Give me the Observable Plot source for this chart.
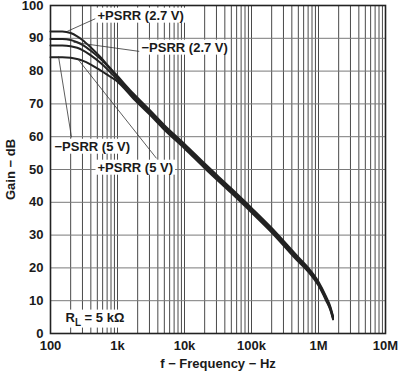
<!DOCTYPE html>
<html><head><meta charset="utf-8">
<script src="https://cdn.jsdelivr.net/npm/d3@7"></script>
<script src="https://cdn.jsdelivr.net/npm/@observablehq/plot@0.6"></script>
<style>
body{margin:0;background:#fff;}
#chart svg{display:block;}
</style>
</head><body><div id="chart"></div>
<script>
// Frequencies (Hz) at which the curves are read
const freqs = [100, 150, 200, 250, 300, 400, 550, 750, 1000, 1750, 3000, 5000, 10000, 20000, 50000, 100000, 200000, 500000, 700000, 1000000, 1300000, 1500000, 1650000];
// Gain (dB) per series
const posPsrr27 = [92.1, 92.1, 91.6, 90.6, 89.5, 87.2, 84.4, 81.3, 78.5, 73.0, 68.2, 63.5, 57.8, 51.8, 44.2, 38.3, 32.2, 23.3, 20.1, 15.8, 11.2, 8.2, 5.2];
const negPsrr27 = [89.8, 89.8, 89.5, 88.8, 88.0, 86.2, 83.8, 81.0, 78.0, 72.6, 67.8, 63.1, 57.4, 51.4, 43.8, 37.9, 31.8, 22.9, 19.7, 15.4, 10.8, 7.8, 4.9];
const posPsrr5 = [87.8, 87.8, 87.6, 87.1, 86.4, 84.8, 82.6, 80.0, 77.4, 72.0, 67.2, 62.6, 56.9, 50.9, 43.3, 37.4, 31.3, 22.4, 19.3, 15.0, 10.4, 7.5, 4.6];
const negPsrr5 = [84.2, 84.2, 84.1, 83.7, 83.2, 82.0, 80.3, 78.5, 76.8, 71.5, 66.8, 62.1, 56.4, 50.4, 42.8, 36.9, 30.8, 21.9, 18.9, 14.6, 10.0, 7.2, 4.3];
const seriesNames = ["+PSRR (2.7 V)", "−PSRR (2.7 V)", "+PSRR (5 V)", "−PSRR (5 V)"];
const seriesValues = [posPsrr27, negPsrr27, posPsrr5, negPsrr5];

// Axes
const xTickValues = [100, 1e3, 1e4, 1e5, 1e6, 1e7];
const xTickLabels = ["100", "1k", "10k", "100k", "1M", "10M"];
const yTickValues = [0, 10, 20, 30, 40, 50, 60, 70, 80, 90, 100];
const xLabel = "f − Frequency − Hz";
const yLabel = "Gain − dB";

// Annotations (data coordinates: frequency, gain)
const labelTexts = ["+PSRR (2.7 V)", "−PSRR (2.7 V)", "−PSRR (5 V)", "+PSRR (5 V)", "RL = 5 kΩ"];
const labelF = [503, 2281, 114.7, 503, 167.5];
const labelG = [96.95, 87.2, 57.0, 50.6, 4.9];
const leaderF1 = [177, 220, 131.6, 253];
const leaderG1 = [92.1, 88.8, 84.5, 83.8];
const leaderF2 = [470, 2128, 205.8, 3820];
const leaderG2 = [96.0, 86.0, 59.8, 53.4];

const rows = seriesNames.flatMap((name, i) => freqs.map((f, j) => ({name, f, g: seriesValues[i][j]})));
const labels = labelTexts.map((t, i) => ({t, f: labelF[i], g: labelG[i]}));
const leaders = leaderF1.map((f, i) => ({f1: f, g1: leaderG1[i], f2: leaderF2[i], g2: leaderG2[i]}));
const gridX = [];
for (let d = 100; d < 1e7; d *= 10) for (let k = 1; k <= 9; k++) gridX.push(k * d);
gridX.push(1e7);

const plot = Plot.plot({
  width: 398, height: 372,
  marginLeft: 50, marginRight: 13, marginTop: 5, marginBottom: 39,
  style: {fontFamily: "'Liberation Sans', Arial, sans-serif", fontSize: "13px", fontWeight: "bold", background: "#fff", color: "#1a1a1a"},
  x: {type: "log", domain: [100, 1e7]},
  y: {domain: [0, 100]},
  marks: [
    Plot.ruleX(gridX, {stroke: "#4a4a4a", strokeWidth: 1}),
    Plot.ruleY(yTickValues, {stroke: "#7a7a7a", strokeWidth: 1}),
    Plot.line(rows, {x: "f", y: "g", z: "name", stroke: "#222", strokeWidth: 2, curve: "monotone-x"}),
    Plot.link(leaders, {x1: "f1", y1: "g1", x2: "f2", y2: "g2", stroke: "#333", strokeWidth: 0.8}),
    Plot.text(labels, {x: "f", y: "g", text: "t", textAnchor: "start", fill: "#1a1a1a"}),
    Plot.frame({stroke: "#222", strokeWidth: 1.6}),
    Plot.axisX({ticks: xTickValues, tickFormat: d => xTickLabels[xTickValues.indexOf(d)], tickSize: 0, tickPadding: 7,
      label: xLabel, labelAnchor: "center", labelArrow: "none", labelOffset: 34}),
    Plot.axisY({ticks: yTickValues, tickSize: 0, tickPadding: 7,
      label: yLabel, labelAnchor: "center", labelArrow: "none", labelOffset: 45})
  ]
});
document.getElementById("chart").append(plot);

// White boxes behind annotation labels, subscript in R_L
const labelSet = new Set(labelTexts);
d3.select(plot).selectAll("text").each(function() {
  const t = this.textContent;
  if (!labelSet.has(t)) return;
  if (t === "RL = 5 kΩ") {
    const el = d3.select(this);
    el.text(null);
    el.append("tspan").text("R");
    el.append("tspan").attr("font-size", "10px").attr("dy", "4").text("L");
    el.append("tspan").attr("dy", "-4").text(" = 5 kΩ");
  }
  const b = this.getBBox();
  const r = document.createElementNS("http://www.w3.org/2000/svg", "rect");
  r.setAttribute("x", b.x - 2);
  r.setAttribute("y", b.y);
  r.setAttribute("width", b.width + 4);
  r.setAttribute("height", b.height);
  r.setAttribute("fill", "#fff");
  const tr = this.getAttribute("transform");
  if (tr) r.setAttribute("transform", tr);
  this.parentNode.insertBefore(r, this);
});
</script>
</body></html>
